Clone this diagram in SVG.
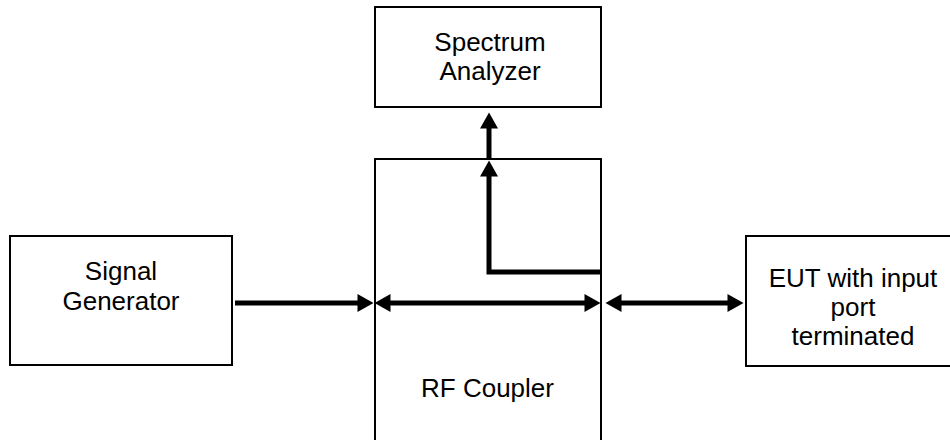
<svg xmlns="http://www.w3.org/2000/svg" width="950" height="440" viewBox="0 0 950 440">
<style>
.box{fill:#fff;stroke:#000;stroke-width:2}
.t{font-family:"Liberation Sans",Arial,sans-serif;font-size:26px;fill:#000;text-anchor:middle}
.c{fill:none;stroke:#000;stroke-width:5}
</style>
<defs>
<marker id="ah" markerUnits="userSpaceOnUse" markerWidth="16" markerHeight="18" refX="0.5" refY="9" orient="auto-start-reverse" overflow="visible">
<path d="M0,0 L16,9 L0,18 z" fill="#000"/>
</marker>
</defs>
<rect width="950" height="440" fill="#fff"/>
<g id="spectrum-analyzer">
<rect class="box" x="375" y="7" width="226" height="100"/>
<text class="t" x="490" y="51">Spectrum</text>
<text class="t" x="490" y="80">Analyzer</text>
</g>
<g id="rf-coupler">
<rect class="box" x="375" y="159" width="226" height="290"/>
<text class="t" x="487.5" y="397">RF Coupler</text>
</g>
<g id="signal-generator">
<rect class="box" x="10" y="236" width="222" height="129"/>
<text class="t" x="121" y="280">Signal</text>
<text class="t" x="121" y="310">Generator</text>
</g>
<g id="eut">
<rect class="box" x="746" y="236" width="214" height="130"/>
<text class="t" x="853" y="287">EUT with input</text>
<text class="t" x="853" y="316">port</text>
<text class="t" x="853" y="345">terminated</text>
</g>
<g id="connectors">
<line class="c" x1="235" y1="303" x2="358" y2="303" marker-end="url(#ah)"/>
<line class="c" x1="390" y1="303" x2="585" y2="303" marker-start="url(#ah)" marker-end="url(#ah)"/>
<line class="c" x1="621" y1="303" x2="728" y2="303" marker-start="url(#ah)" marker-end="url(#ah)"/>
<polyline class="c" points="601,272 489,272 489,176" marker-end="url(#ah)"/>
<line class="c" x1="489" y1="159" x2="489" y2="128" marker-end="url(#ah)"/>
</g>
</svg>
